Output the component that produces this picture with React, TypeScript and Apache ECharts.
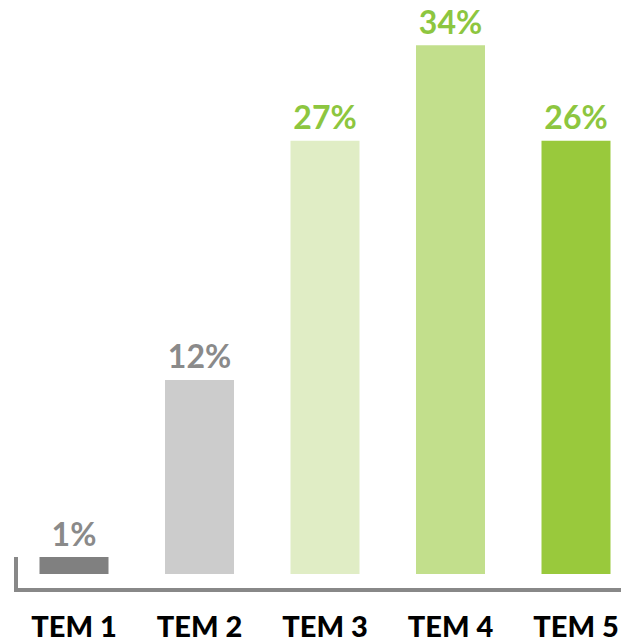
import React, { useEffect, useRef } from "react";
import * as echarts from "echarts";

const categories = ["TEM 1", "TEM 2", "TEM 3", "TEM 4", "TEM 5"];
// bar heights (percent units)
const barValues = [1.05, 12.0, 26.8, 32.7, 26.8];
const valueLabels = ["1%", "12%", "27%", "34%", "26%"];
const barColors = ["#808080", "#cccccc", "#e0edc5", "#c2df8c", "#99c93c"];
const labelColors = ["#8a8a8a", "#8a8a8a", "#8dc63f", "#8dc63f", "#8dc63f"];

export default function App() {
  const ref = useRef<HTMLDivElement>(null);
  useEffect(() => {
    document.body.style.margin = "0";
    document.body.style.overflow = "hidden";
    const chart = echarts.init(ref.current!, null, { renderer: "svg" });
    const option = {
      animation: false,
      backgroundColor: "#ffffff",
      grid: { left: 11.25, right: 1.25, top: 0, bottom: 68, containLabel: false },
      xAxis: {
        type: "category",
        data: categories,
        axisLine: { show: false },
        axisTick: { show: false },
        axisLabel: {
          margin: 36,
          color: "#000000",
          fontFamily: "Lato",
          fontWeight: 900,
          fontSize: 29,
          lineHeight: 30,
        },
      },
      yAxis: {
        type: "value",
        min: 0,
        max: 574 / 16.17,
        show: false,
        splitLine: { show: false },
      },
      graphic: [
        {
          type: "polyline",
          shape: { points: [[16, 557], [16, 590], [640, 590]] },
          style: { stroke: "#888888", lineWidth: 4, fill: null },
          z: 10,
        },
      ],
      series: [
        {
          type: "bar",
          barWidth: 69,
          data: barValues.map((v, i) => ({
            value: v,
            itemStyle: { color: barColors[i] },
            label: {
              show: true,
              position: "top",
              distance: 8,
              formatter: valueLabels[i],
              color: labelColors[i],
              fontFamily: "Lato",
              fontWeight: 700,
              fontSize: 32,
            },
          })),
        },
      ],
    };
    chart.setOption(option as any);
    return () => chart.dispose();
  }, []);
  return (
    <div style={{ position: "absolute", left: 0, top: 0, width: 621, height: 642, overflow: "hidden" }}>
      <div ref={ref} style={{ width: 640, height: 642 }} />
    </div>
  );
}
